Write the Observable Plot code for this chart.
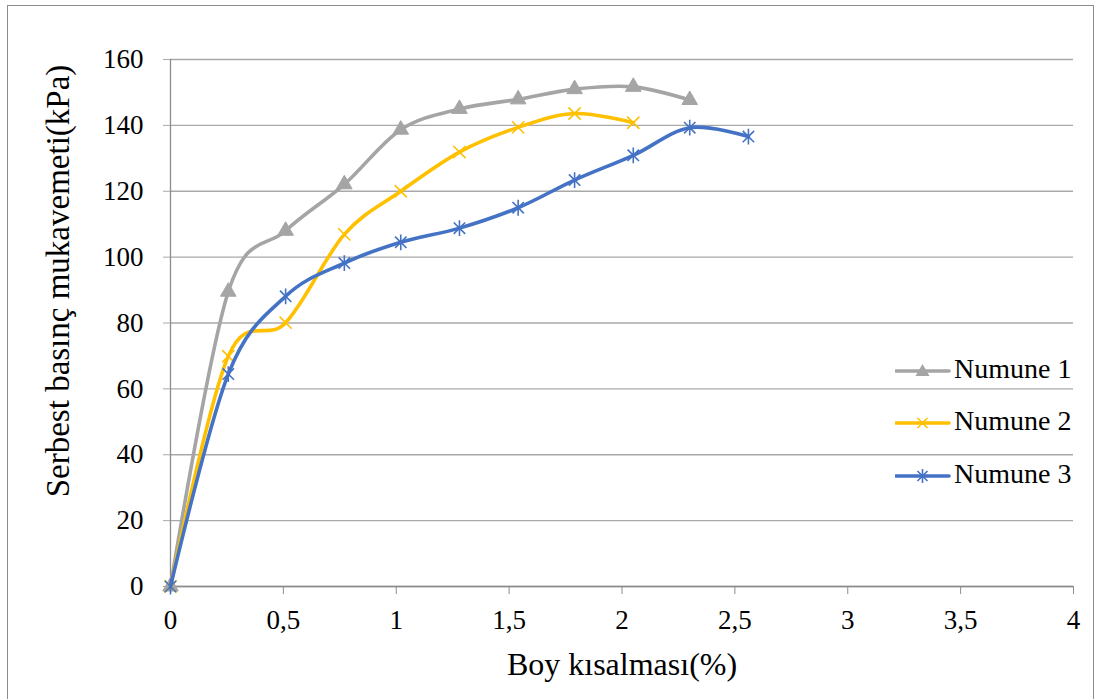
<!DOCTYPE html>
<html>
<head>
<meta charset="utf-8">
<script src="https://cdn.jsdelivr.net/npm/d3@7"></script>
<script src="https://cdn.jsdelivr.net/npm/@observablehq/plot@0.6"></script>
<style>
  html, body { margin: 0; padding: 0; background: #fff; }
  #wrap { position: relative; width: 1101px; height: 699px; overflow: hidden; font-family: "Liberation Serif", "Times New Roman", serif; }
  #border { position: absolute; left: 7px; top: 5px; width: 1087px; height: 700px; border: 1px solid #8c8c8c; box-sizing: border-box; pointer-events: none; }
  #chart { position: absolute; left: 0; top: 0; }
  .legend { position: absolute; left: 895px; font-size: 28px; color: #000; }
  .legend .item { position: absolute; left: 0; white-space: nowrap; height: 30px; }
  .legend svg { position: absolute; left: 0; top: 0; }
  .legend span { position: absolute; left: 59px; top: -2px; line-height: 30px; }
</style>
</head>
<body>
<div id="wrap">
  <div id="chart"></div>
  <div id="border"></div>
  <div class="legend" id="legend"></div>
</div>
<script>
// ---- data ----
const strain = [0, 0.256, 0.51, 0.77, 1.02, 1.28, 1.54, 1.79, 2.05, 2.30, 2.56];
const numune1 = [0, 89.5, 108.0, 122.1, 138.7, 145.0, 147.9, 151.0, 151.7, 147.7];
const numune2 = [0, 69.9, 80.1, 106.9, 120.0, 131.9, 139.4, 143.6, 140.8];
const numune3 = [0, 64.5, 88.1, 98.2, 104.5, 108.8, 115.0, 123.4, 130.9, 139.3, 136.6];
const seriesNames = ["Numune 1", "Numune 2", "Numune 3"];
const seriesColors = ["#A5A5A5", "#FFC000", "#4472C4"];
const xTicks = [0, 0.5, 1, 1.5, 2, 2.5, 3, 3.5, 4];
const yTicks = [0, 20, 40, 60, 80, 100, 120, 140, 160];
const xTitle = "Boy kısalması(%)";
const yTitle = "Serbest basınç mukavemeti(kPa)";

const toRows = (vals, name) => vals.map((v, i) => ({x: strain[i], y: v, s: name}));
const rows = [
  toRows(numune1, seriesNames[0]),
  toRows(numune2, seriesNames[1]),
  toRows(numune3, seriesNames[2])
];

// Excel-like star marker: X with vertical bar
const star = {
  draw(context, size) {
    const r = Math.sqrt(size) * 0.62;
    const d = r * 0.72;
    context.moveTo(0, -r); context.lineTo(0, r);
    context.moveTo(-d, -d); context.lineTo(d, d);
    context.moveTo(-d, d); context.lineTo(d, -d);
  }
};

const fmt = d => String(d).replace(".", ",");
const curve = d3.curveCardinal.tension(0);

const chart = Plot.plot({
  width: 1101,
  height: 699,
  marginLeft: 170,
  marginRight: 28,
  marginTop: 59,
  marginBottom: 113,
  style: { fontFamily: "'Liberation Serif', 'Times New Roman', serif", fontSize: "27px", color: "#000", background: "transparent" },
  x: { domain: [0, 4] },
  y: { domain: [0, 160] },
  marks: [
    Plot.gridY(yTicks, { stroke: "#a9a9a9", strokeOpacity: 1, strokeWidth: 1.3 }),
    Plot.axisY(yTicks, { tickSize: 7, tickPadding: 20, tickFormat: d => d, label: null, stroke: "#a9a9a9", strokeOpacity: 1, fontSize: 27, fill: "#000" }),
    Plot.axisX(xTicks, { tickSize: 8, tickPadding: 15, tickFormat: fmt, label: null, stroke: "#8c8c8c", strokeOpacity: 1, fontSize: 27, fill: "#000" }),
    Plot.ruleX([0], { stroke: "#8c8c8c", strokeWidth: 1.3 }),
    Plot.ruleY([0], { stroke: "#8c8c8c", strokeWidth: 1.3 }),
    // series 1
    Plot.line(rows[0], { x: "x", y: "y", stroke: seriesColors[0], strokeWidth: 3.6, curve }),
    Plot.dot(rows[0], { x: "x", y: "y", symbol: "triangle", r: 5.8, fill: seriesColors[0], stroke: seriesColors[0], strokeWidth: 1 }),
    // series 2
    Plot.line(rows[1], { x: "x", y: "y", stroke: seriesColors[1], strokeWidth: 3.6, curve }),
    Plot.dot(rows[1], { x: "x", y: "y", symbol: "times", r: 5.6, stroke: seriesColors[1], strokeWidth: 1.6 }),
    // series 3
    Plot.line(rows[2], { x: "x", y: "y", stroke: seriesColors[2], strokeWidth: 3.6, curve }),
    Plot.dot(rows[2], { x: "x", y: "y", symbol: star, r: 7.2, stroke: seriesColors[2], strokeWidth: 1.6 }),
    // axis titles
    Plot.text([xTitle], { frameAnchor: "bottom", dy: 78, text: d => d, fontSize: 32, fill: "#000", lineAnchor: "middle", textAnchor: "middle" }),
    Plot.text([yTitle], { frameAnchor: "left", dx: -112, dy: -42, rotate: -90, text: d => d, fontSize: 33, fill: "#000", lineAnchor: "middle", textAnchor: "middle" })
  ]
});
document.getElementById("chart").appendChild(chart);

// legend
const legendTops = [356, 408, 461];
const legend = document.getElementById("legend");
const ns = "http://www.w3.org/2000/svg";
seriesNames.forEach((name, i) => {
  const item = document.createElement("div");
  item.className = "item";
  item.style.top = legendTops[i] + "px";
  const svg = document.createElementNS(ns, "svg");
  svg.setAttribute("width", "56"); svg.setAttribute("height", "30");
  const line = document.createElementNS(ns, "line");
  line.setAttribute("x1", "1"); line.setAttribute("x2", "54");
  line.setAttribute("y1", "15"); line.setAttribute("y2", "15");
  line.setAttribute("stroke", seriesColors[i]); line.setAttribute("stroke-width", "3.6");
  line.setAttribute("stroke-linecap", "round");
  svg.appendChild(line);
  const p = document.createElementNS(ns, "path");
  const cx = 27.5, cy = 15;
  if (i === 0) {
    p.setAttribute("d", `M${cx},${cy-7}L${cx+7},${cy+5}L${cx-7},${cy+5}Z`);
    p.setAttribute("fill", seriesColors[i]);
  } else if (i === 1) {
    p.setAttribute("d", `M${cx-5},${cy-5}L${cx+5},${cy+5}M${cx-5},${cy+5}L${cx+5},${cy-5}`);
    p.setAttribute("stroke", seriesColors[i]); p.setAttribute("stroke-width", "1.6"); p.setAttribute("fill", "none");
  } else {
    p.setAttribute("d", `M${cx},${cy-7}L${cx},${cy+7}M${cx-5},${cy-5}L${cx+5},${cy+5}M${cx-5},${cy+5}L${cx+5},${cy-5}`);
    p.setAttribute("stroke", seriesColors[i]); p.setAttribute("stroke-width", "1.6"); p.setAttribute("fill", "none");
  }
  svg.appendChild(p);
  item.appendChild(svg);
  const span = document.createElement("span");
  span.textContent = name;
  item.appendChild(span);
  legend.appendChild(item);
});
</script>
</body>
</html>
